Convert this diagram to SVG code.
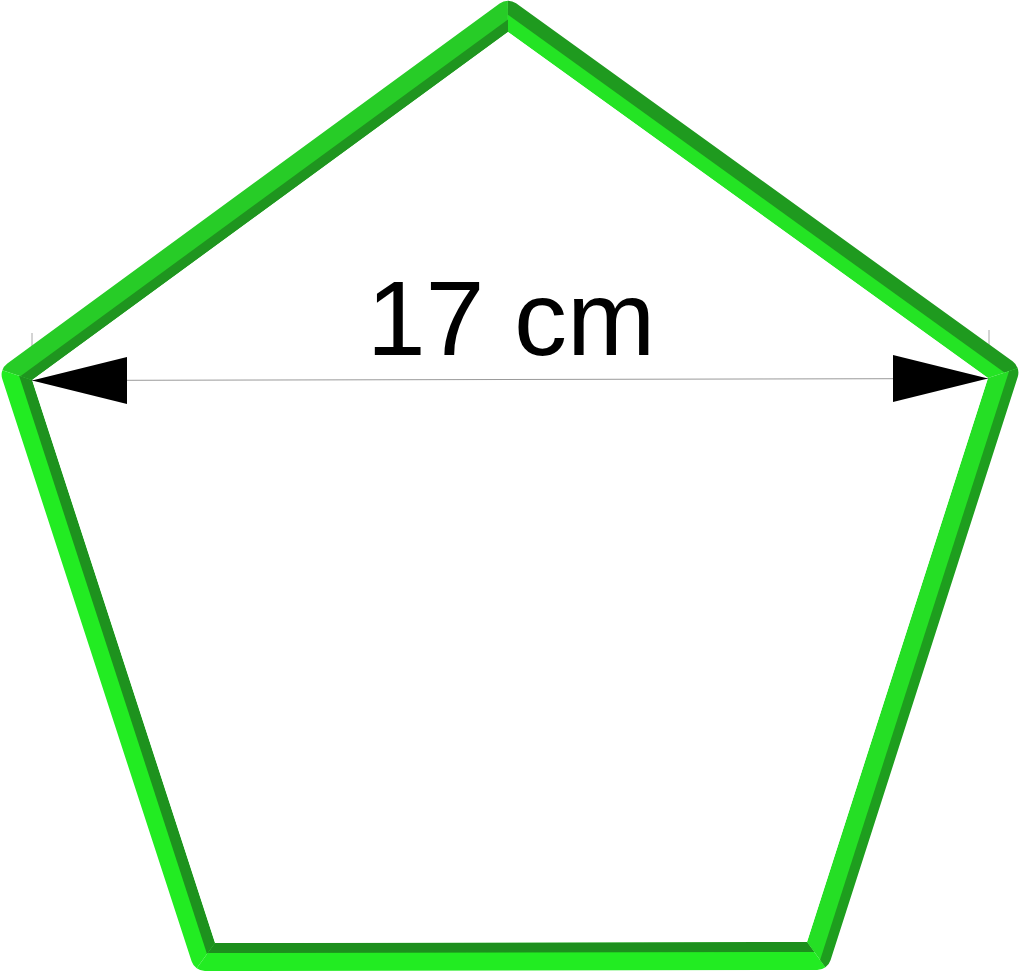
<svg xmlns="http://www.w3.org/2000/svg" width="1020" height="974" viewBox="0 0 1020 974">
<style>
.ext{stroke:#a8a8a8;stroke-width:1;fill:none}
.dim{stroke:#9a9a9a;stroke-width:1;fill:none}
.head{fill:#000}
.lbl{font-family:"Liberation Sans",Arial,sans-serif;font-size:106px;fill:#000}
</style>
<defs>
<mask id="band" maskUnits="userSpaceOnUse" x="0" y="0" width="1020" height="974">
<path d="M507.9,14.7 L1004.4,372.6 L817.2,956 L204.9,957 L15.6,374.7 Z" fill="none" stroke="#fff" stroke-width="28" stroke-linejoin="round"/>
</mask>
</defs>
<rect width="1020" height="974" fill="#fff"/>
<g id="extension-lines">
<line class="ext" x1="32" y1="333" x2="32" y2="380"/>
<line class="ext" x1="989" y1="330" x2="989" y2="378"/>
</g>
<g id="pentagon" mask="url(#band)">
<polygon points="508,32 32,380 -39.7,356.7 507.7,-43.5" fill="#27cc27"/>
<polygon points="508,32 988,378 1059.7,354.4 507.7,-43.5" fill="#24e424"/>
<polygon points="988,378 807,942 851.6,1003.1 1059.7,354.4" fill="#25df25"/>
<polygon points="807,942 215,943 170.7,1004.2 851.6,1003.1" fill="#22ec22"/>
<polygon points="215,943 32,380 -39.7,356.7 170.7,1004.2" fill="#22ec22"/>
<polygon points="508,32 32,380 20.3,376.2 507.95,19.6" fill="#1f951f"/>
<polygon points="32,380 215,943 207,954 19.1,375.8" fill="#1e921e"/>
<polygon points="215,943 807,942 814.3,952 207.8,953" fill="#1d8f1d"/>
<polygon points="507.9,14.7 1004.4,372.6 1059.7,354.4 507.7,-43.5" fill="#1f9a1f"/>
<polygon points="1009.1,371.1 820.1,960 851.6,1003.1 1059.7,354.4" fill="#1e9e1e"/>
</g>
<g id="connectors">
<line class="dim" x1="32" y1="380.5" x2="988" y2="378.5"/>
<polygon class="head" points="32,380.5 127,357 127,404"/>
<polygon class="head" points="988,378.5 893,355 893,402"/>
</g>
<g id="label">
<text class="lbl" x="511" y="355" text-anchor="middle">17 cm</text>
</g>
</svg>
